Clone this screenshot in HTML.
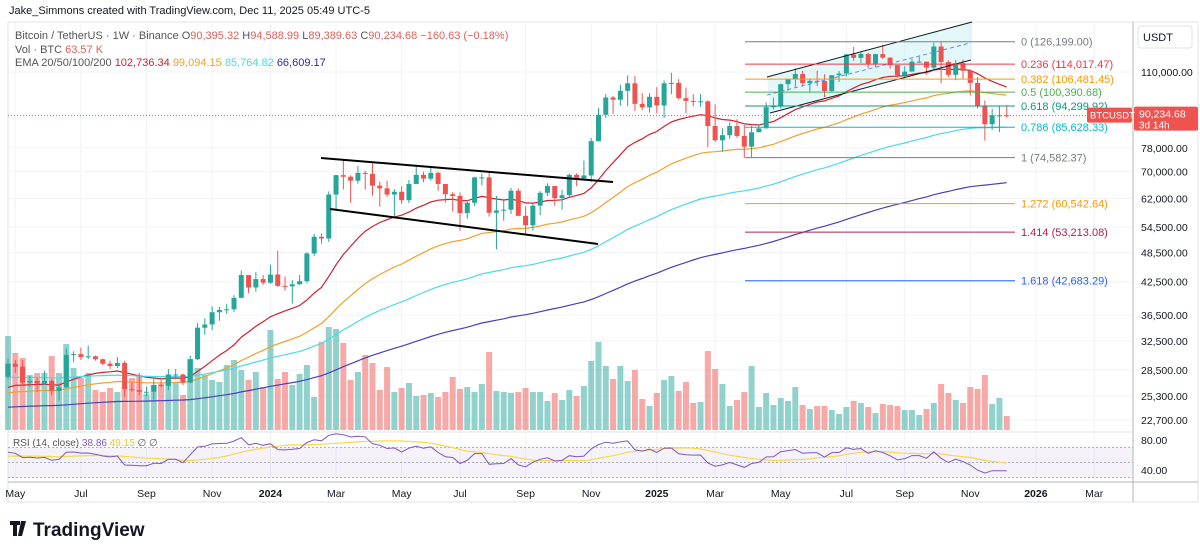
<!DOCTYPE html>
<html><head><meta charset="utf-8"><style>
html,body{margin:0;padding:0;background:#fff;width:1200px;height:555px;overflow:hidden}
svg{display:block;font-family:"Liberation Sans",sans-serif}
</style></head><body>
<svg id="c" width="1200" height="555" viewBox="0 0 1200 555">
<text x="9" y="14" font-size="11" fill="#131722">Jake_Simmons created with TradingView.com, Dec 11, 2025 05:49 UTC-5</text>
<rect x="8" y="22" width="1190" height="480" fill="none" stroke="#e0e3eb"/>
<g id="grid"></g><g id="fills"></g><g id="vol"></g><g id="ema"></g><g id="candles"></g><g id="draw"></g><g id="rsi"></g><g id="axis"></g>
<g font-size="11">
<text x="15" y="39" fill="#555">Bitcoin / TetherUS · 1W · Binance <tspan fill="#555">O</tspan><tspan fill="#e0605a">90,395.32</tspan> <tspan fill="#555">H</tspan><tspan fill="#e0605a">94,588.99</tspan> <tspan fill="#555">L</tspan><tspan fill="#e0605a">89,389.63</tspan> <tspan fill="#555">C</tspan><tspan fill="#e0605a">90,234.68 −160.63 (−0.18%)</tspan></text>
<text x="15" y="53" fill="#555">Vol · BTC <tspan fill="#e0605a">63.57 K</tspan></text>
<text x="15" y="66" fill="#555">EMA 20/50/100/200 <tspan fill="#d0222e">102,736.34</tspan> <tspan fill="#f0a030">99,094.15</tspan> <tspan fill="#4dd9e6">85,764.82</tspan> <tspan fill="#2a2aa8">66,609.17</tspan></text>
</g>
<g>
<path d="M10 521h10v4h-3v11h-4v-11h-3z M21 521h5l-4 15h-4z" fill="#131722"/>
<text x="33" y="536" font-size="19" font-weight="bold" fill="#131722">TradingView</text>
</g>
</svg>
<script>
const closes=[29.3,28.9,26.9,27.1,26.8,27.1,25.9,26.3,30.5,30.6,30.2,30.3,29.9,29.3,29.0,29.4,26.1,26.0,25.8,25.8,26.6,26.5,27.9,27.9,26.9,29.9,34.5,35.0,37.0,37.4,37.5,39.5,43.8,41.4,43.0,42.3,43.9,41.7,41.6,42.0,42.6,48.3,52.1,51.7,63.1,68.9,68.4,67.2,69.6,69.3,65.7,64.9,63.1,63.9,61.5,66.2,69.0,67.8,69.6,66.2,63.2,62.7,58.0,60.8,68.2,68.2,58.1,58.7,58.9,64.2,57.3,54.9,60.0,63.6,65.6,62.1,62.9,69.0,67.9,68.8,80.4,90.6,98.0,97.0,101.0,104.5,95.2,93.7,98.3,94.5,104.5,104.7,97.7,96.5,96.1,96.3,86.1,80.7,82.6,86.1,82.3,78.4,83.7,85.2,93.8,94.3,104.1,106.5,109.0,104.6,105.7,105.6,100.9,108.4,109.2,119.1,117.3,119.4,114.2,119.3,117.4,113.5,108.3,110.2,115.3,115.3,112.2,123.5,115.1,108.6,114.5,110.6,104.7,94.2,86.8,90.4,90.4,90.23];
const highs=[30.0,29.8,29.8,27.7,27.5,28.4,27.3,26.8,31.4,31.0,31.5,31.8,30.4,30.0,29.7,30.2,29.7,26.9,28.1,26.4,27.5,27.5,28.6,28.6,28.0,30.4,35.2,36.0,38.0,37.9,38.4,40.0,44.7,43.4,44.4,43.8,45.9,48.9,43.5,42.8,43.8,48.6,52.8,52.9,64.0,69.0,73.8,68.9,71.8,70.3,72.8,66.9,67.2,64.7,65.5,67.4,71.9,70.0,71.9,70.0,66.1,63.8,63.7,61.4,68.4,69.4,70.0,62.7,61.8,65.0,64.9,59.8,60.6,64.1,66.4,64.5,64.5,69.4,69.5,73.6,81.6,93.4,99.5,98.7,103.9,108.3,108.0,99.9,99.9,102.7,105.9,109.6,106.5,102.5,99.5,99.5,96.7,95.0,85.2,87.5,88.8,86.5,86.2,86.7,95.8,97.9,104.3,106.7,111.9,110.5,106.8,110.6,108.9,108.5,110.5,119.5,123.2,120.2,120.0,119.5,124.5,117.6,113.5,112.9,116.7,117.9,115.3,125.7,126.2,115.9,116.1,116.4,111.2,107.5,96.6,93.1,94.2,94.6];
const lows=[27.3,28.1,26.7,26.4,25.8,26.6,25.4,24.8,26.3,29.5,29.8,29.9,29.7,29.1,28.6,28.7,25.2,25.8,25.4,25.3,24.9,26.3,26.0,27.3,26.6,26.8,29.8,33.4,34.1,35.6,36.7,37.1,39.5,40.3,40.6,41.9,42.1,41.5,40.8,38.5,41.9,42.2,47.7,50.5,50.9,59.0,64.6,60.8,66.3,64.5,62.8,59.7,62.4,56.6,60.5,60.7,66.6,66.7,67.2,64.2,60.8,58.4,53.5,56.5,59.9,65.8,57.1,49.2,56.0,57.8,57.2,52.6,53.6,57.5,62.7,60.0,58.9,62.1,65.5,67.5,66.8,80.2,89.4,90.9,94.5,94.2,92.2,92.5,91.5,91.2,89.3,99.5,97.0,91.2,94.1,93.9,78.2,80.1,76.6,81.2,81.6,74.5,74.6,83.9,85.1,92.8,93.4,101.0,102.2,103.4,100.4,103.2,98.2,100.2,105.1,107.8,115.6,114.5,111.9,112.6,116.8,111.7,107.3,107.5,110.8,114.7,108.7,111.3,104.5,107.5,106.0,106.3,98.9,93.2,80.6,84.6,83.8,89.4];
const firstOpen=27.6;
const volumes=[94,77,72,55,57,57,74,57,86,62,52,57,40,38,42,38,43,52,55,36,45,46,55,47,35,71,62,55,50,48,65,70,60,50,58,43,100,51,58,45,56,65,33,88,103,101,87,50,58,75,67,40,63,38,42,47,34,35,37,33,38,53,41,43,38,46,78,39,38,37,38,42,38,38,29,37,30,40,34,44,69,88,64,51,64,49,60,31,24,37,50,54,39,48,27,28,79,61,46,24,30,38,64,23,37,25,32,29,43,25,21,24,24,20,16,23,29,27,23,17,26,25,24,20,20,15,21,27,46,37,30,27,43,41,55,26,32,14];
const emaSeeds=[26.0,25.5,27.5,24.0];
const emaPeriods=[20,50,100,200];
const emaColors=["#d0222e","#f0a030","#4dd9e6","#4a3fb8"];
const rsiSeed=[0.95,0.62,58];
const priceTicks=[110000,78000,70000,62000,54500,48500,42500,36500,32500,28500,25300,22700];
const timeLabels=["May","Jul","Sep","Nov","2024","Mar","May","Jul","Sep","Nov","2025","Mar","May","Jul","Sep","Nov","2026","Mar"];
const timeIdx=[1,10,19,28,36,45,54,62,71,80,89,97,106,115,123,132,141,149];
const fibLevels=["0","0.236","0.382","0.5","0.618","0.786","1","1.272","1.414","1.618"];
const fibPrices=[126199.00,114017.47,106481.45,100390.68,94299.92,85628.33,74582.37,60542.64,53213.08,42683.29];
const fibColors=["#787b86","#f23645","#ff9800","#4caf50","#089981","#00bcd4","#787b86","#ff9800","#b0224c","#2962ff"];
const rsiTicks=[80,40];

const NS="http://www.w3.org/2000/svg";
function el(tag,attrs,parent){const e=document.createElementNS(NS,tag);for(const k in attrs)e.setAttribute(k,attrs[k]);parent.appendChild(e);return e;}
const xOf=i=>8+i*7.29;
const yP=p=>72+(Math.log(110000)-Math.log(p))*220.5;
const yK=k=>yP(k*1000);
const yV=v=>430-v;
const yR=v=>440+(80-v)*0.75;
const G=id=>document.getElementById(id);

const grid=G('grid');
priceTicks.forEach(p=>{const l=el('line',{x1:8,x2:1133,y1:yP(p),y2:yP(p),stroke:"#f0f3fa"},grid);

});
timeIdx.forEach(i=>{const l=el('line',{x1:xOf(i),x2:xOf(i),y1:22,y2:482,stroke:"#f0f3fa"},grid);

});

const vol=G('vol');
closes.forEach((c,i)=>{const o=i?closes[i-1]:firstOpen;const up=c>=o;
const r=el('rect',{x:xOf(i)-3,y:yV(volumes[i]),width:6,height:volumes[i],fill:up?"rgba(38,166,154,0.5)":"rgba(239,83,80,0.5)"},vol);

});

const fills=G('fills');
const cf=el('polygon',{points:"767,77 972,22 972,60 770,113",fill:"rgba(178,235,242,0.35)"},fills);



const emaG=G('ema');
emaPeriods.forEach((p,j)=>{let e=emaSeeds[j];const a=2/(p+1);const pts=[];
closes.forEach((c,i)=>{e=a*c+(1-a)*e;pts.push(xOf(i).toFixed(1)+","+yK(e).toFixed(1));});
const pl=el('polyline',{points:pts.join(" "),fill:"none",stroke:emaColors[j],"stroke-width":1.2},emaG);

});

const cg=G('candles');
closes.forEach((c,i)=>{const o=i?closes[i-1]:firstOpen;const up=c>=o;const col=up?"#26a69a":"#ef5350";const x=xOf(i);
const w=el('line',{x1:x,x2:x,y1:yK(highs[i]),y2:yK(lows[i]),stroke:col,"stroke-width":1},cg);


const t=Math.min(yK(o),yK(c)),h=Math.max(1,Math.abs(yK(o)-yK(c)));
const b=el('rect',{x:x-2.5,y:t,width:5,height:h,fill:col},cg);

});

const dr=G('draw');
[[767,77,972,22,"#131722",1,""],[770,113,971,60,"#131722",1,""],[767,95,970,43,"#5b8def",1,"4 3"],[321,158,613,182,"#000",2,""],[330,209,598,244,"#000",2,""]].forEach((d,k)=>{
const l=el('line',{x1:d[0],y1:d[1],x2:d[2],y2:d[3],stroke:d[4],"stroke-width":d[5],"stroke-dasharray":d[6]},dr);

});
fibPrices.forEach((p,k)=>{const y=yP(p);
const l=el('line',{x1:745,x2:1015,y1:y,y2:y,stroke:fibColors[k],"stroke-width":1},dr);


const t=el('text',{x:1021,y:y+4,"font-size":11,fill:fibColors[k]},dr);
t.textContent=fibLevels[k]+" ("+p.toLocaleString('en-US',{minimumFractionDigits:2,maximumFractionDigits:2})+")";

});
const ly=yP(90234.68);
const cl=el('line',{x1:8,x2:1133,y1:ly,y2:ly,stroke:"#ef5350","stroke-dasharray":"1 2"},dr);



const rg=G('rsi');
const band=el('rect',{x:8,y:yR(70),width:1125,height:yR(30)-yR(70),fill:"rgba(126,87,194,0.08)"},rg);


[70,50,30].forEach(v=>{const l=el('line',{x1:8,x2:1133,y1:yR(v),y2:yR(v),stroke:"#9598a1","stroke-dasharray":"2 2","stroke-width":0.8},rg);

});
const rsiVals=[];let ag=rsiSeed[0],al=rsiSeed[1];
closes.forEach((c,i)=>{const prev=i?closes[i-1]:firstOpen;const d=c-prev;const g=Math.max(d,0),ls=Math.max(-d,0);
ag=(ag*13+g)/14;al=(al*13+ls)/14;
rsiVals.push(al===0?100:100-100/(1+ag/al));});
let sAcc=[];const sig=rsiVals.map((v,i)=>{const s=rsiVals.slice(Math.max(0,i-13),i+1);const pad=14-s.length;return (s.reduce((a,b)=>a+b,0)+pad*rsiSeed[2])/14;});
const sl=el('polyline',{points:sig.map((v,i)=>xOf(i).toFixed(1)+","+yR(v).toFixed(1)).join(" "),fill:"none",stroke:"#f5d94a","stroke-width":1.2},rg);


const rl=el('polyline',{points:rsiVals.map((v,i)=>xOf(i).toFixed(1)+","+yR(v).toFixed(1)).join(" "),fill:"none",stroke:"#7e57c2","stroke-width":1},rg);


const rt=el('text',{x:13,y:446,"font-size":10,fill:"#555"},rg);
rt.innerHTML='RSI (14, close) <tspan fill="#7e57c2">38.86</tspan> <tspan fill="#e8c840">49.15</tspan> ∅ ∅';



const ax=G('axis');
const sep=el('line',{x1:8,x2:1133,y1:432,y2:432,stroke:"#e0e3eb"},ax);


const ta=el('line',{x1:8,x2:1198,y1:482,y2:482,stroke:"#b2b5be"},ax);


const pa=el('line',{x1:1133,x2:1133,y1:22,y2:502,stroke:"#b2b5be"},ax);


const ub=el('rect',{x:1138,y:26,width:54,height:22,rx:3,fill:"#fff",stroke:"#e0e3eb"},ax);


const ut=el('text',{x:1143,y:41,"font-size":11,fill:"#131722"},ax);ut.textContent="USDT";


priceTicks.forEach(p=>{const t=el('text',{x:1141,y:yP(p)+4,"font-size":10.5,fill:"#131722"},ax);
t.textContent=p.toLocaleString('en-US',{minimumFractionDigits:2});

});
rsiTicks.forEach(v=>{const t=el('text',{x:1141,y:yR(v)+4,"font-size":10.5,fill:"#131722"},ax);
t.textContent=v.toFixed(2);

});
timeLabels.forEach((s,k)=>{const t=el('text',{x:xOf(timeIdx[k]),y:497,"font-size":10.5,"text-anchor":"middle",fill:"#131722","font-weight":/^\d/.test(s)?"bold":"normal"},ax);
t.textContent=s;

});
const pb=el('rect',{x:1134,y:ly-9,width:64,height:24,rx:2,fill:"#ef5350"},ax);


const pt=el('text',{x:1139,y:ly+2,"font-size":10.5,fill:"#fff"},ax);pt.textContent="90,234.68";


const pt2=el('text',{x:1139,y:ly+13,"font-size":10,fill:"#fff"},ax);pt2.textContent="3d 14h";


const sb=el('rect',{x:1087,y:ly-8,width:45,height:15,rx:2,fill:"#ef5350"},ax);


const st=el('text',{x:1090,y:ly+3,"font-size":9.5,fill:"#fff"},ax);st.textContent="BTCUSDT";


</script>
</body></html>
